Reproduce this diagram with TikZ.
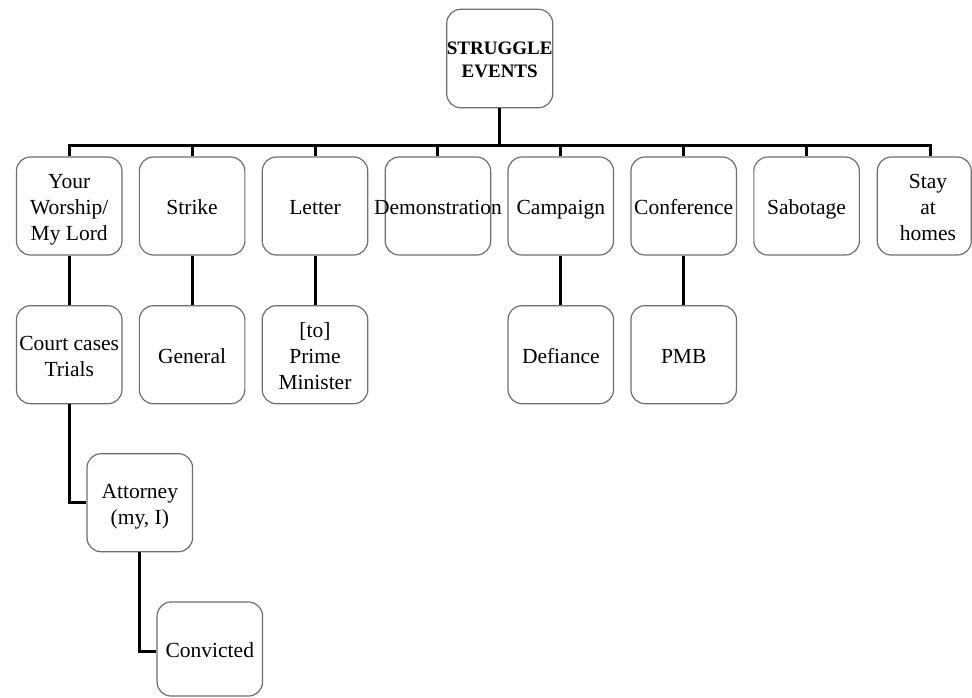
\documentclass[tikz,border=0pt]{standalone}
\usepackage{fontspec}
\setmainfont{Liberation Serif}
\newcommand\lines[1]{\begin{tabular}{@{}c@{}}#1\end{tabular}}
\tikzset{
  box/.style={draw=boxgray, line width=1.2pt, rounded corners=14pt, fill=white,
    minimum width=105.5pt, minimum height=98pt, inner sep=0pt},
  lbl/.style={inner sep=0pt, font=\fontsize{21.5}{26}\selectfont},
  rootlbl/.style={inner sep=0pt, font=\fontsize{19}{23.3}\selectfont\bfseries},
  conn/.style={draw=black, line width=3pt},
}
\definecolor{boxgray}{HTML}{6E6E6E}
\begin{document}
\begin{tikzpicture}[x=1pt, y=-1pt]
  \useasboundingbox (0,0) rectangle (972,697);
  \clip (0,0) rectangle (972,697);

  % ends of the horizontal bus
  \coordinate (busL) at (69.2,145);
  \coordinate (busR) at (930,145);

  % boxes
  \node[box, minimum width=106pt, minimum height=98.4pt] (root) at (499.7,58.5) {};
  \node[rootlbl] (root-t) at ([yshift=-2.5pt]root.center) {\lines{STRUGGLE\\EVENTS}};

  \node[box] (worship) at (69.2,206) {};
  \node[box] (strike)  at (192.1,206) {};
  \node[box] (letter)  at (315.0,206) {};
  \node[box] (demo)    at (437.9,206) {};
  \node[box] (camp)    at (560.8,206) {};
  \node[box] (conf)    at (683.7,206) {};
  \node[box] (sabo)    at (806.6,206) {};
  \node[box, minimum width=94pt] (stay) at (924.3,206) {};

  \node[box] (court)   at (69.2,354.7) {};
  \node[box] (general) at (192.1,354.7) {};
  \node[box] (pm)      at (315.0,354.7) {};
  \node[box] (defy)    at (560.8,354.7) {};
  \node[box] (pmb)     at (683.7,354.7) {};

  \node[box] (atty)    at (139.8,502.7) {};
  \node[box, minimum height=94pt] (conv) at (209.8,649) {};

  % labels
  \node[lbl] (worship-t) at ([yshift=-3.6pt]worship.center) {\lines{Your\\Worship/\\My Lord}};
  \node[lbl] (strike-t)  at ([yshift=-3.6pt]strike.center)  {\lines{Strike}};
  \node[lbl] (letter-t)  at ([yshift=-3.6pt]letter.center)  {\lines{Letter}};
  \node[lbl] (demo-t)    at ([yshift=-3.6pt]demo.center)    {\lines{Demonstration}};
  \node[lbl] (camp-t)    at ([yshift=-3.6pt]camp.center)    {\lines{Campaign}};
  \node[lbl] (conf-t)    at ([yshift=-3.6pt]conf.center)    {\lines{Conference}};
  \node[lbl] (sabo-t)    at ([yshift=-3.6pt]sabo.center)    {\lines{Sabotage}};
  \node[lbl] (stay-t)    at ([xshift=3.7pt,yshift=-3.6pt]stay.center) {\lines{Stay\\at\\homes}};

  \node[lbl] (court-t)   at ([yshift=-3.2pt]court.center)   {\lines{Court cases\\Trials}};
  \node[lbl] (general-t) at ([yshift=-3.6pt]general.center) {\lines{General}};
  \node[lbl] (pm-t)      at ([yshift=-3.6pt]pm.center)      {\lines{[to]\\Prime\\Minister}};
  \node[lbl] (defy-t)    at ([yshift=-3.6pt]defy.center)    {\lines{Defiance}};
  \node[lbl] (pmb-t)     at ([yshift=-3.6pt]pmb.center)     {\lines{PMB}};

  \node[lbl] (atty-t)    at ([yshift=-3.2pt]atty.center)    {\lines{Attorney\\(my, I)}};
  \node[lbl] (conv-t)    at ([yshift=-3.6pt]conv.center)    {\lines{Convicted}};

  % tree connectors
  \draw[conn] (root.south) -- (root.south |- busL);
  \draw[conn] (worship.north) |- (busR) -- (busR |- stay.north);
  \foreach \c in {strike,letter,demo,camp,conf,sabo}
    \draw[conn] (\c.north |- busL) -- (\c.north);

  \draw[conn] (worship.south) -- (court.north);
  \draw[conn] (strike.south)  -- (general.north);
  \draw[conn] (letter.south)  -- (pm.north);
  \draw[conn] (camp.south)    -- (defy.north);
  \draw[conn] (conf.south)    -- (pmb.north);

  \draw[conn] (court.south) |- (atty.west);
  \draw[conn] (atty.south)  |- ([yshift=-2.7pt]conv.west);
\end{tikzpicture}
\end{document}
